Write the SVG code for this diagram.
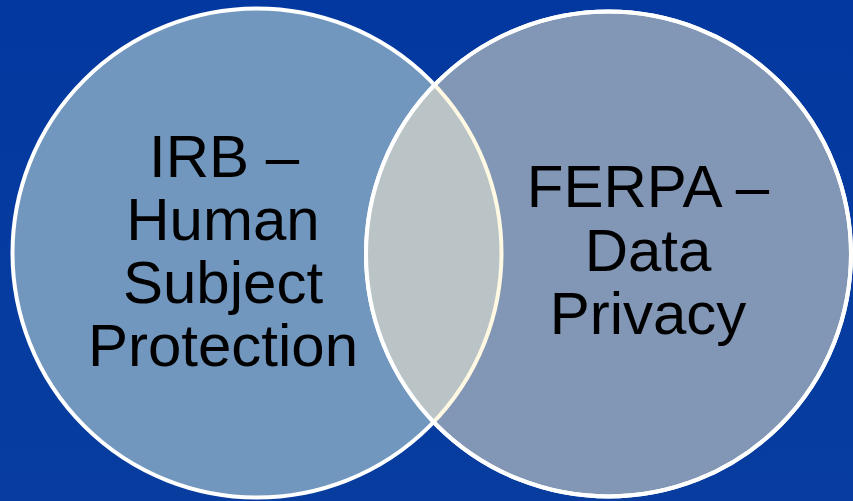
<svg xmlns="http://www.w3.org/2000/svg" width="853" height="501" viewBox="0 0 853 501">
  <style>
    .lbl { font-family: "Liberation Sans", Arial, sans-serif; font-size: 60px; fill: #000; text-anchor: middle; }
    .ring { fill: none; stroke: #ffffff; stroke-width: 4; }
  </style>
  <defs>
    <clipPath id="clipLeft"><circle cx="257" cy="253" r="244.5"/></clipPath>
    <clipPath id="clipRight"><circle cx="608.5" cy="254" r="242.5"/></clipPath>
    <linearGradient id="bg" x1="0" y1="0" x2="0" y2="1">
      <stop offset="0" stop-color="#0338a0"/>
      <stop offset="1" stop-color="#083d9f"/>
    </linearGradient>
  </defs>
  <rect x="0" y="0" width="853" height="501" fill="url(#bg)"/>
  <g id="irb">
    <circle cx="257" cy="253" r="244.5" fill="#7297bf"/>
    <circle class="ring" cx="257" cy="253" r="244.5"/>
    <text class="lbl" x="224" y="177">IRB –</text>
    <text class="lbl" x="223" y="240">Human</text>
    <text class="lbl" x="223" y="303">Subject</text>
    <text class="lbl" x="223" y="366">Protection</text>
  </g>
  <g id="ferpa">
    <circle cx="608.5" cy="254" r="242.5" fill="#8296b5"/>
    <circle class="ring" cx="608.5" cy="254" r="242.5"/>
    <text class="lbl" x="648" y="207">FERPA –</text>
    <text class="lbl" x="648" y="271">Data</text>
    <text class="lbl" x="648" y="334">Privacy</text>
  </g>
  <g id="overlap">
    <circle cx="608.5" cy="254" r="242.5" fill="#bac4c6" clip-path="url(#clipLeft)"/>
    <circle cx="257" cy="253" r="244.5" fill="none" stroke="#fff8e2" stroke-width="4" clip-path="url(#clipRight)"/>
    <circle class="ring" cx="608.5" cy="254" r="242.5"/>
  </g>
</svg>
